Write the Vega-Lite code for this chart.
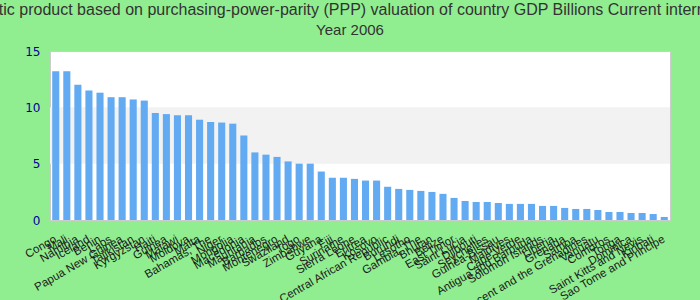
{
  "$schema": "https://vega.github.io/schema/vega-lite/v6.json",
  "autosize": {"type": "none"},
  "width": 620,
  "height": 169,
  "padding": {"left": 50, "top": 51, "right": 30, "bottom": 80},
  "background": "#90ee90",
  "title": {
    "text": "Gross domestic product based on purchasing-power-parity (PPP) valuation of country GDP Billions Current international dollar",
    "subtitle": "Year 2006",
    "anchor": "middle",
    "dx": -10,
    "font": "Liberation Sans",
    "fontSize": 16,
    "fontWeight": "normal",
    "color": "#333333",
    "subtitleFont": "Liberation Sans",
    "subtitleFontSize": 15,
    "subtitleColor": "#333333",
    "subtitlePadding": 5,
    "offset": 7
  },
  "config": {"view": {"stroke": "#cccccc", "fill": "#ffffff"}},
  "layer": [
    {
      "data": {"values": [{"lo": 5, "hi": 10}]},
      "mark": {"type": "rect", "color": "#f2f2f2"},
      "encoding": {
        "y": {
          "field": "lo",
          "type": "quantitative",
          "scale": {"domain": [0, 15], "nice": false, "zero": true},
          "axis": {
            "title": null,
            "values": [0, 5, 10, 15],
            "grid": false,
            "ticks": false,
            "domain": false,
            "labelFont": "DejaVu Sans",
            "labelFontSize": 12,
            "labelColor": "#000099",
            "labelPadding": 10
          }
        },
        "y2": {"field": "hi"}
      }
    },
    {
      "data": {
        "values": [
          {"country": "Congo", "value": 13.2},
          {"country": "Mali", "value": 13.2},
          {"country": "Namibia", "value": 12.0},
          {"country": "Iceland", "value": 11.5},
          {"country": "Benin", "value": 11.3},
          {"country": "Laos", "value": 10.9},
          {"country": "Papua New Guinea", "value": 10.9},
          {"country": "Tajikistan", "value": 10.7},
          {"country": "Kyrgyzstan", "value": 10.6},
          {"country": "Haiti", "value": 9.5},
          {"country": "Guinea", "value": 9.4},
          {"country": "Malawi", "value": 9.3},
          {"country": "Moldova", "value": 9.3},
          {"country": "Malta", "value": 8.9},
          {"country": "Bahamas, The", "value": 8.7},
          {"country": "Niger", "value": 8.65},
          {"country": "Mongolia", "value": 8.55},
          {"country": "Macedonia", "value": 7.5},
          {"country": "Mauritania", "value": 6.0},
          {"country": "Barbados", "value": 5.8},
          {"country": "Montenegro", "value": 5.6},
          {"country": "Swaziland", "value": 5.2},
          {"country": "Togo", "value": 5.0},
          {"country": "Zimbabwe", "value": 5.0},
          {"country": "Guyana", "value": 4.3},
          {"country": "Fiji", "value": 3.75},
          {"country": "Suriname", "value": 3.75},
          {"country": "Sierra Leone", "value": 3.65},
          {"country": "Eritrea", "value": 3.5},
          {"country": "Kosovo", "value": 3.5},
          {"country": "Central African Republic", "value": 2.95},
          {"country": "Burundi", "value": 2.76},
          {"country": "Lesotho", "value": 2.67},
          {"country": "Gambia, The", "value": 2.58},
          {"country": "Bhutan", "value": 2.49},
          {"country": "Belize", "value": 2.32},
          {"country": "East Timor", "value": 1.96},
          {"country": "Saint Lucia", "value": 1.69},
          {"country": "Djibouti", "value": 1.6},
          {"country": "Seychelles", "value": 1.6},
          {"country": "Guinea-Bissau", "value": 1.51},
          {"country": "Maldives", "value": 1.43},
          {"country": "Cape Verde", "value": 1.43},
          {"country": "Antigua and Barbuda", "value": 1.43},
          {"country": "Solomon Islands", "value": 1.25},
          {"country": "Liberia", "value": 1.25},
          {"country": "Grenada", "value": 1.07},
          {"country": "Samoa", "value": 0.98},
          {"country": "Saint Vincent and the Grenadines", "value": 0.98},
          {"country": "Vanuatu", "value": 0.89},
          {"country": "Comoros", "value": 0.71},
          {"country": "Tonga", "value": 0.71},
          {"country": "Dominica", "value": 0.62},
          {"country": "Saint Kitts and Nevis", "value": 0.62},
          {"country": "Kiribati", "value": 0.53},
          {"country": "Sao Tome and Principe", "value": 0.27}
        ]
      },
      "mark": {"type": "bar", "color": "#62aaf2"},
      "encoding": {
        "x": {
          "field": "country",
          "type": "nominal",
          "sort": null,
          "scale": {"paddingInner": 0.36, "paddingOuter": 0.2},
          "axis": {
            "title": null,
            "labelAngle": -30,
            "labelFont": "Liberation Sans",
            "labelFontSize": 11.5,
            "labelColor": "#1a1a1a",
            "labelOverlap": false,
            "labelPadding": 13,
            "labelOffset": -3,
            "ticks": false,
            "domain": false,
            "labelLimit": 300
          }
        },
        "y": {"field": "value", "type": "quantitative", "scale": {"domain": [0, 15], "nice": false}}
      }
    }
  ]
}
